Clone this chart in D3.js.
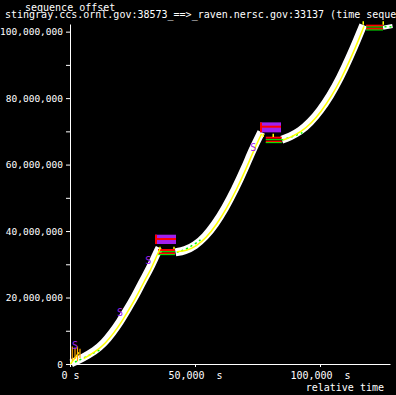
<!DOCTYPE html>
<html>
<head>
<meta charset="utf-8">
<script src="https://cdn.jsdelivr.net/npm/d3@7"></script>
<style>
  html, body { margin: 0; padding: 0; background: #000; }
  svg { display: block; background: #000; }
  text { font-family: "DejaVu Sans Mono", "Liberation Mono", monospace; fill: #fff; white-space: pre; }
</style>
</head>
<body>
<svg width="396" height="395"></svg>
<script>
// time sequence graph, stingray -> raven
// times in seconds, sequence offsets in bytes

const xTicks = [0, 50000, 100000];
const xTickLabels = ["0 s", "50,000  s", "100,000  s"];
const yTicks = [0, 10e6, 20e6, 30e6, 40e6, 50e6, 60e6, 70e6, 80e6, 90e6, 100e6];
const yTickLabels = ["0", "", "20,000,000", "", "40,000,000", "", "60,000,000", "", "80,000,000", "", "100,000,000"];

// data segments (white band), one array pair per burst
const sendT1 = [500, 5000, 10000, 13500, 17000, 20000, 23000, 26000, 29000, 32000, 34500, 35800];
const sendS1 = [0.2e6, 1.8e6, 4.0e6, 6.2e6, 9.5e6, 12.7e6, 16.5e6, 20.3e6, 24.8e6, 28.8e6, 33.0e6, 35.0e6];
const sendT2 = [42200, 46000, 50000, 54000, 58000, 62000, 66000, 70000, 73000, 76500];
const sendS2 = [33.6e6, 34.1e6, 35.6e6, 38.2e6, 42.0e6, 46.8e6, 52.5e6, 59.0e6, 64.5e6, 69.8e6];
const sendT3 = [84700, 88000, 92000, 96000, 100000, 104000, 108000, 112000, 115000, 117300];
const sendS3 = [67.5e6, 68.4e6, 70.0e6, 72.6e6, 76.2e6, 80.6e6, 86.0e6, 92.5e6, 97.8e6, 102.0e6];
const sendT4 = [125200, 129000];
const sendS4 = [101.2e6, 101.7e6];

// ack line (yellow)
const ackT0 = [200, 3600];
const ackS0 = [0, 3.5e6];
const ackT1 = [5500, 10500, 14000, 17500, 20500, 23500, 26500, 29500, 32500, 35200, 36000];
const ackS1 = [1.6e6, 3.9e6, 6.1e6, 9.3e6, 12.5e6, 16.3e6, 20.1e6, 24.6e6, 28.6e6, 33.4e6, 34.6e6];
const ackT2 = [42800, 46500, 50500, 54500, 58500, 62500, 66500, 70500, 73500, 76600];
const ackS2 = [33.8e6, 34.0e6, 35.4e6, 38.0e6, 41.8e6, 46.6e6, 52.3e6, 58.8e6, 64.3e6, 69.2e6];
const ackT3 = [85200, 88500, 92500, 96500, 100500, 104500, 108500, 112500, 115500, 117600];
const ackS3 = [67.4e6, 68.3e6, 69.9e6, 72.4e6, 76.0e6, 80.4e6, 85.8e6, 92.3e6, 97.6e6, 101.6e6];

// ack ticks at the stalls
const ackTickT = [36000, 41600, 77300, 81300, 117300, 125300];
const ackTickLo = [34.6e6, 34.6e6, 68.3e6, 68.3e6, 102.1e6, 102.1e6];
const ackTickHi = [35.3e6, 35.3e6, 69.3e6, 69.3e6, 103.1e6, 103.1e6];

// receive window (green dashed)
const winT1 = [2000, 6000, 9500, 12500];
const winS1 = [0.6e6, 2.0e6, 3.3e6, 4.5e6];
const winT2 = [42700, 47000, 52700];
const winS2 = [33.6e6, 34.6e6, 37.6e6];
const winT3 = [84700, 89000, 93300];
const winS3 = [67.4e6, 68.4e6, 69.7e6];
const winT4 = [125800, 129000];
const winS4 = [101.5e6, 101.5e6];

// retransmission stalls
const stallStart = [35200, 78300, 118400];
const stallEnd = [42000, 84700, 125200];
const retransHi = [34.3e6, 68.1e6, 101.8e6];
const retransLo = [33.3e6, 66.9e6, 100.9e6];
const stallWinHi = [33.8e6, 67.5e6, 101.4e6];
const stallWinLo = [32.9e6, 66.6e6, 100.5e6];

// sack blocks
const sackStart = [34000, 76000];
const sackEnd = [42400, 84400];
const sackLo = [36.1e6, 69.7e6];
const sackHi = [38.9e6, 72.7e6];
const sackMid = [37.6e6, 71.4e6];

// "S" marks
const sMarkT = [2000, 20000, 31300, 73300];
const sMarkS = [5.7e6, 15.4e6, 31.1e6, 65.0e6];

// orange marks near the start
const orangeT = [900, 2000, 3000, 4000];
const orangeLo = [1.0e6, 1.5e6, 0.8e6, 1.8e6];
const orangeHi = [5.3e6, 5.0e6, 5.3e6, 4.6e6];

const svg = d3.select("svg");

const x = d3.scaleLinear().domain([0, 128000]).range([70, 390]);
const y = d3.scaleLinear().domain([0, 102.3e6]).range([364, 24]);

// axes
const yAxis = svg.append("g")
    .attr("transform", "translate(70,0)")
    .call(d3.axisLeft(y)
        .tickValues(yTicks)
        .tickSize(4)
        .tickSizeOuter(0)
        .tickPadding(3)
        .tickFormat((d, i) => yTickLabels[i]));
yAxis.attr("color", "#fff").attr("font-family", null).attr("font-size", null);
yAxis.selectAll("text").style("font-size", "9.5px");

const xAxis = svg.append("g")
    .attr("transform", "translate(0,364)")
    .call(d3.axisBottom(x)
        .tickValues(xTicks)
        .tickSize(3)
        .tickSizeOuter(0)
        .tickPadding(5)
        .tickFormat((d, i) => xTickLabels[i]));
xAxis.attr("color", "#fff").attr("font-family", null).attr("font-size", null);
xAxis.selectAll("text").style("font-size", "10px");

svg.append("text").attr("x", 5).attr("y", 18).style("font-size", "10px")
    .text("stingray.ccs.ornl.gov:38573_==>_raven.nersc.gov:33137 (time sequence graph)");
svg.append("text").attr("x", 25).attr("y", 11).style("font-size", "10px")
    .text("sequence offset");
svg.append("text").attr("x", 384).attr("y", 391).attr("text-anchor", "end").style("font-size", "10px")
    .text("relative time");

const line = d3.line()
    .x(d => x(d[0]))
    .y(d => y(d[1]))
    .curve(d3.curveBasis);

function zip(ts, ss) {
    return ts.map((t, i) => [t, ss[i]]);
}

const plot = svg.append("g");

// white data band
const sends = [[sendT1, sendS1, 8], [sendT2, sendS2, 8], [sendT3, sendS3, 8], [sendT4, sendS4, 4]];
sends.forEach(s => {
    plot.append("path")
        .attr("d", line(zip(s[0], s[1])))
        .attr("fill", "none")
        .attr("stroke", "#fff")
        .attr("stroke-width", s[2]);
});

// sack blocks
for (let i = 0; i < sackStart.length; i++) {
    plot.append("rect")
        .attr("x", x(sackStart[i]))
        .attr("y", y(sackHi[i]))
        .attr("width", x(sackEnd[i]) - x(sackStart[i]))
        .attr("height", y(sackLo[i]) - y(sackHi[i]))
        .attr("fill", "#a020f0");
    plot.append("line")
        .attr("x1", x(sackStart[i])).attr("x2", x(sackEnd[i]))
        .attr("y1", y(sackMid[i])).attr("y2", y(sackMid[i]))
        .attr("stroke", "#f00").attr("stroke-width", 2);
    plot.append("line")
        .attr("x1", x(sackStart[i]) + 1).attr("x2", x(sackStart[i]) + 1)
        .attr("y1", y(sackHi[i])).attr("y2", y(sackLo[i]))
        .attr("stroke", "#f00").attr("stroke-width", 2);
}

// stalls: red retransmissions + green window
for (let i = 0; i < stallStart.length; i++) {
    [retransHi[i], retransLo[i]].forEach(v => {
        plot.append("line")
            .attr("x1", x(stallStart[i])).attr("x2", x(stallEnd[i]))
            .attr("y1", y(v)).attr("y2", y(v))
            .attr("stroke", "#f00").attr("stroke-width", 2);
    });
    [stallWinHi[i], stallWinLo[i]].forEach(v => {
        plot.append("line")
            .attr("x1", x(stallStart[i])).attr("x2", x(stallEnd[i]))
            .attr("y1", y(v)).attr("y2", y(v))
            .attr("stroke", "#0f0").attr("stroke-width", 1);
    });
}

// receive window
[[winT1, winS1], [winT2, winS2], [winT3, winS3], [winT4, winS4]].forEach(w => {
    plot.append("path")
        .attr("d", line(zip(w[0], w[1])))
        .attr("fill", "none")
        .attr("stroke", "#0f0")
        .attr("stroke-width", 1.5)
        .attr("stroke-dasharray", "2,3");
});

// ack line
[[ackT0, ackS0], [ackT1, ackS1], [ackT2, ackS2], [ackT3, ackS3]].forEach(a => {
    plot.append("path")
        .attr("d", line(zip(a[0], a[1])))
        .attr("fill", "none")
        .attr("stroke", "#ff0")
        .attr("stroke-width", 1.5);
});

plot.selectAll(".acktick")
    .data(ackTickT)
    .enter()
    .append("line")
    .attr("x1", d => x(d)).attr("x2", d => x(d))
    .attr("y1", (d, i) => y(ackTickLo[i]))
    .attr("y2", (d, i) => y(ackTickHi[i]))
    .attr("stroke", "#ff0")
    .attr("stroke-width", 1.5);

// orange marks
plot.selectAll(".orange")
    .data(orangeT)
    .enter()
    .append("line")
    .attr("x1", d => x(d)).attr("x2", d => x(d))
    .attr("y1", (d, i) => y(orangeLo[i]))
    .attr("y2", (d, i) => y(orangeHi[i]))
    .attr("stroke", "#ffa500")
    .attr("stroke-width", 1.2);

// S marks
plot.selectAll(".smark")
    .data(sMarkT)
    .enter()
    .append("text")
    .attr("x", d => x(d))
    .attr("y", (d, i) => y(sMarkS[i]))
    .attr("text-anchor", "middle")
    .attr("dy", "0.35em")
    .style("font-size", "10px")
    .style("fill", "#a020f0")
    .text("S");
</script>
</body>
</html>
